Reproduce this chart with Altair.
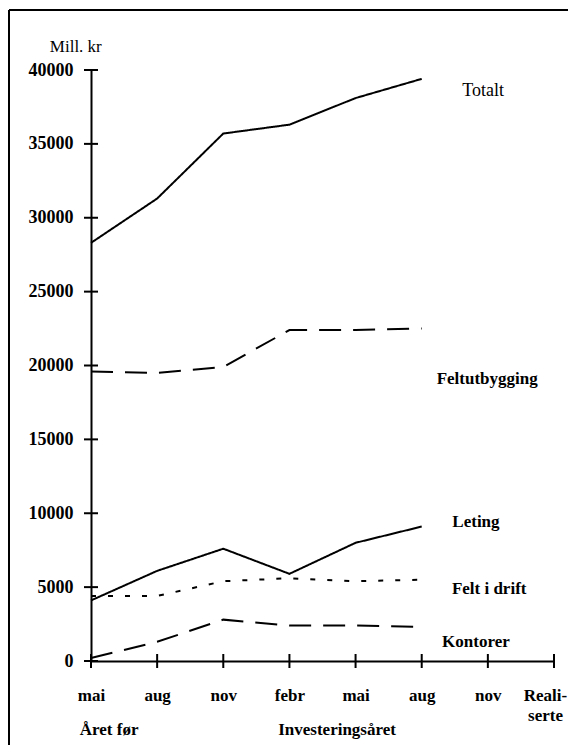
import json
import altair as alt
import pandas as pd

# ---- data ----
periods = [0, 1, 2, 3, 4, 5]  # mai, aug, nov (året før), febr, mai, aug (investeringsåret)
tick_labels = ["mai", "aug", "nov", "febr", "mai", "aug", "nov", ["Reali-", "serte"]]
y_ticks = [0, 5000, 10000, 15000, 20000, 25000, 30000, 35000, 40000]

totalt = [28300, 31300, 35700, 36300, 38100, 39400]
feltutbygging = [19600, 19500, 19900, 22400, 22400, 22500]
leting = [4100, 6100, 7600, 5900, 8000, 9100]
felt_i_drift = [4400, 4400, 5400, 5600, 5400, 5500]
kontorer = [200, 1300, 2800, 2400, 2400, 2300]

series_names = ["Totalt", "Feltutbygging", "Leting", "Felt i drift", "Kontorer"]
series_values = [totalt, feltutbygging, leting, felt_i_drift, kontorer]
series_dash = [[1, 0], [22, 12], [1, 0], [5, 12], [22, 12]]

label_text = ["Totalt", "Feltutbygging", "Leting", "Felt i drift", "Kontorer"]
label_x = [5.93, 5.99, 5.82, 6.02, 5.82]
label_y = [38600, 19100, 9400, 4900, 1300]
label_weight = ["normal", "bold", "bold", "bold", "bold"]

group_text = ["Året før", "Investeringsåret"]
group_x = [-0.17, 3.72]
group_align = ["left", "center"]

unit_text = ["Mill. kr"]
unit_x = [-0.23]
unit_y = [41550]

FONT = "Liberation Serif"
W, H = 463, 591

rows = []
for name, vals in zip(series_names, series_values):
    for p, v in zip(periods, vals):
        rows.append({"serie": name, "periode": p, "verdi": v})
df = pd.DataFrame(rows)

xs = alt.Scale(domain=[0, 7], nice=False, zero=False)
ys = alt.Scale(domain=[0, 40000], nice=False)

label_expr = json.dumps(tick_labels) + "[datum.value]"

lines = alt.Chart(df).mark_line(color="black", strokeWidth=2).encode(
    x=alt.X("periode:Q", scale=xs, title=None,
            axis=alt.Axis(values=list(range(8)), labelExpr=label_expr, ticks=False,
                          grid=False, domainColor="black", domainWidth=2,
                          labelFont=FONT, labelFontSize=17, labelFontWeight="bold",
                          labelColor="black", labelPadding=26, labelFlush=False,
                          labelOverlap=False, labelLineHeight=20, labelBaseline="top",
                          labelOffset=alt.condition("datum.value == 7", alt.value(-9), alt.value(0)))),
    y=alt.Y("verdi:Q", scale=ys, title=None,
            axis=alt.Axis(values=y_ticks, format="d", ticks=False, grid=False,
                          domainColor="black", domainWidth=2, labelFont=FONT,
                          labelFontSize=18, labelFontWeight="bold", labelColor="black",
                          labelPadding=18, labelFlush=False, labelOverlap=False)),
    detail="serie:N",
    strokeDash=alt.StrokeDash("serie:N", scale=alt.Scale(domain=series_names, range=series_dash),
                              legend=None),
)

yt = alt.Chart(pd.DataFrame({"v": y_ticks})).mark_rule(color="black", strokeWidth=2).encode(
    y=alt.Y("v:Q", scale=ys, title=None), x=alt.value(-7), x2=alt.value(7))

xt = alt.Chart(pd.DataFrame({"p": list(range(8))})).mark_rule(color="black", strokeWidth=2).encode(
    x=alt.X("p:Q", scale=xs, title=None), y=alt.value(H - 7), y2=alt.value(H + 7))

lab_df = pd.DataFrame({"t": label_text, "x": label_x, "y": label_y, "w": label_weight})
labs_n = alt.Chart(lab_df[lab_df.w == "normal"]).mark_text(
    font=FONT, fontSize=18, color="black", align="center", baseline="middle").encode(
    x=alt.X("x:Q", scale=xs, title=None), y=alt.Y("y:Q", scale=ys, title=None), text="t:N")
labs_b = alt.Chart(lab_df[lab_df.w == "bold"]).mark_text(
    font=FONT, fontSize=17, fontWeight="bold", color="black", align="center",
    baseline="middle").encode(
    x=alt.X("x:Q", scale=xs, title=None), y=alt.Y("y:Q", scale=ys, title=None), text="t:N")

grp_df = pd.DataFrame({"t": group_text, "x": group_x, "a": group_align})
grp_l = alt.Chart(grp_df[grp_df.a == "left"]).mark_text(
    font=FONT, fontSize=17, fontWeight="bold", color="black", align="left",
    baseline="alphabetic").encode(
    x=alt.X("x:Q", scale=xs, title=None), y=alt.value(H + 74), text="t:N")
grp_c = alt.Chart(grp_df[grp_df.a == "center"]).mark_text(
    font=FONT, fontSize=17, fontWeight="bold", color="black", align="center",
    baseline="alphabetic").encode(
    x=alt.X("x:Q", scale=xs, title=None), y=alt.value(H + 74), text="t:N")

unit = alt.Chart(pd.DataFrame({"t": unit_text, "x": unit_x, "y": unit_y})).mark_text(
    font=FONT, fontSize=17, color="black", align="center", baseline="middle").encode(
    x=alt.X("x:Q", scale=xs, title=None), y=alt.Y("y:Q", scale=ys, title=None), text="t:N")

frame_top = alt.Chart(pd.DataFrame({"a": [0]})).mark_rule(color="black", strokeWidth=2).encode(
    x=alt.value(-82), x2=alt.value(W + 30), y=alt.value(-60))
frame_left = alt.Chart(pd.DataFrame({"a": [0]})).mark_rule(color="black", strokeWidth=2).encode(
    x=alt.value(-82), y=alt.value(-60), y2=alt.value(H + 100))

chart = alt.layer(lines, yt, xt, labs_n, labs_b, grp_l, grp_c, unit, frame_top, frame_left).properties(
    width=W, height=H, autosize="none", background="white",
    padding={"left": 83, "top": 62, "right": 14, "bottom": 84},
).configure_view(stroke="transparent", strokeWidth=0)

chart.save("out.html", embed_options={"renderer": "svg", "actions": False})
